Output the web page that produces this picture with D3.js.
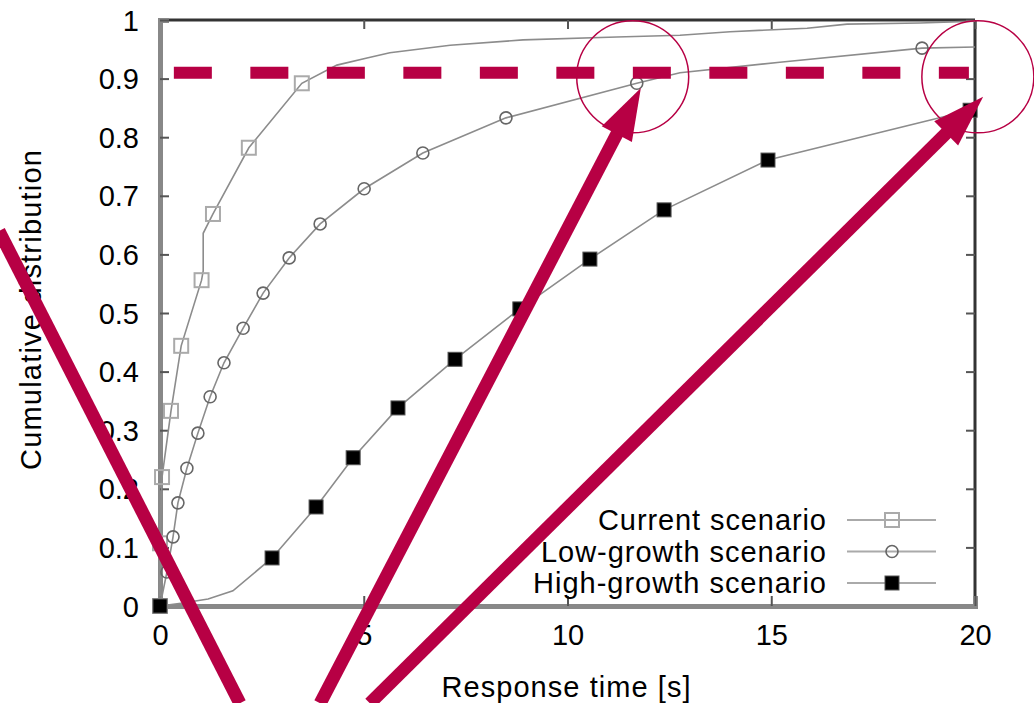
<!DOCTYPE html>
<html>
<head>
<meta charset="utf-8">
<script src="https://d3js.org/d3.v7.min.js"></script>
<style>
  body { margin: 0; background: #fff; }
  text { font-family: "Liberation Sans", Arial, sans-serif; fill: #000; }
</style>
</head>
<body>
<div id="chart"></div>
<script>
// tick values
var xTicks = [0, 5, 10, 15, 20];
var yTicks = [0, 0.1, 0.2, 0.3, 0.4, 0.5, 0.6, 0.7, 0.8, 0.9, 1];

// series: [response time, cumulative share]
var currentLine = [[0,0],[0,0.107],[0.05,0.22],[0.27,0.333],[0.52,0.444],[1.02,0.556],[1.06,0.572],[1.06,0.636],[1.3,0.669],[2.18,0.782],[3.48,0.892],[4.34,0.923],[5.08,0.935],[5.64,0.944],[7.12,0.957],[8.91,0.966],[11.21,0.971],[12.76,0.974],[13.99,0.98],[15.88,0.986],[16.86,0.993],[18.65,0.995],[20,0.998]];
var currentPts = [[0,0],[0,0.107],[0.05,0.22],[0.27,0.333],[0.52,0.444],[1.02,0.556],[1.3,0.669],[2.18,0.782],[3.48,0.892]];

var lowLine = [[0,0],[0.17,0.058],[0.32,0.118],[0.44,0.176],[0.66,0.235],[0.93,0.295],[1.23,0.357],[1.57,0.415],[2.04,0.474],[2.53,0.534],[3.17,0.594],[3.93,0.652],[5.01,0.712],[6.45,0.773],[8.49,0.833],[11.7,0.892],[12.76,0.91],[15.21,0.928],[18.7,0.952],[20,0.954]];
var lowPts = [[0,0],[0.17,0.058],[0.32,0.118],[0.44,0.176],[0.66,0.235],[0.93,0.295],[1.23,0.357],[1.57,0.415],[2.04,0.474],[2.53,0.534],[3.17,0.594],[3.93,0.652],[5.01,0.712],[6.45,0.773],[8.49,0.833],[11.7,0.892],[18.7,0.952]];

var highLine = [[0,0],[0.56,0.005],[1.18,0.012],[1.79,0.026],[2.75,0.082],[3.83,0.169],[4.74,0.253],[5.84,0.338],[7.24,0.421],[8.83,0.507],[10.55,0.592],[12.37,0.676],[14.92,0.761],[19.88,0.846]];
var highPts = [[0,0],[2.75,0.082],[3.83,0.169],[4.74,0.253],[5.84,0.338],[7.24,0.421],[8.83,0.507],[10.55,0.592],[12.37,0.676],[14.92,0.761],[19.88,0.846]];

var legendNames = ["Current scenario", "Low-growth scenario", "High-growth scenario"];
var legendWidths = [228, 285, 293];

// red annotations, in data units
var threshold = 0.91, thresholdFrom = 0.34, thresholdTo = 19.85;
var rings = [[11.6, 0.903], [20.07, 0.903]];
var arrows = [
  {from: [3.93, -0.166], to: [11.8, 0.884], head: true},
  {from: [5.15, -0.166], to: [20.2, 0.869], head: true},
  {from: [1.96, -0.166], to: [-3.93, 0.637], head: false}
];

var W = 1034, H = 703;
var x = d3.scaleLinear().domain([0, 20]).range([160, 975]);
var y = d3.scaleLinear().domain([0, 1]).range([606, 20]);

var svg = d3.select("#chart").append("svg")
  .attr("width", W).attr("height", H);

// frame: top + right dark, left + bottom grey
svg.append("line").attr("x1", x(0)).attr("x2", x(20)).attr("y1", y(1)).attr("y2", y(1))
  .attr("stroke", "#333").attr("stroke-width", 3);
svg.append("line").attr("x1", x(20)).attr("x2", x(20)).attr("y1", y(1)).attr("y2", y(0))
  .attr("stroke", "#333").attr("stroke-width", 3);

// ticks on mirrored sides
var topAxis = svg.append("g").attr("transform", "translate(0," + y(1) + ")")
  .call(d3.axisTop(x).tickValues(xTicks).tickSize(-9).tickFormat(""));
var rightAxis = svg.append("g").attr("transform", "translate(" + x(20) + ",0)")
  .call(d3.axisRight(y).tickValues(yTicks).tickSize(-9).tickFormat(""));
[topAxis, rightAxis].forEach(function(g) {
  g.select(".domain").remove();
  g.selectAll(".tick line").attr("stroke", "#555").attr("stroke-width", 2);
});

var leftAxis = svg.append("g").attr("transform", "translate(" + x(0) + ",0)")
  .call(d3.axisLeft(y).tickValues(yTicks).tickSize(-9).tickPadding(21)
    .tickFormat(function(d) { return d3.format("~g")(d); }));
var bottomAxis = svg.append("g").attr("transform", "translate(0," + y(0) + ")")
  .call(d3.axisBottom(x).tickValues(xTicks).tickSize(-10).tickPadding(18));
[leftAxis, bottomAxis].forEach(function(g) {
  g.select(".domain").attr("stroke", "#888").attr("stroke-width", 5);
  g.selectAll(".tick line").attr("stroke", "#555").attr("stroke-width", 2);
  g.selectAll(".tick text").style("font-size", "29px")
    .style("font-family", "'Liberation Sans', Arial, sans-serif").attr("fill", "#000");
});
leftAxis.selectAll(".tick text").attr("dy", "0.35em");
bottomAxis.selectAll(".tick text").attr("dy", "0.71em");

// axis titles
svg.append("text").attr("x", 566).attr("y", 697).attr("text-anchor", "middle")
  .attr("textLength", 249).attr("lengthAdjust", "spacing")
  .style("font-size", "29px").text("Response time [s]");
svg.append("text").attr("transform", "translate(41,310) rotate(-90)")
  .attr("text-anchor", "middle").attr("textLength", 320).attr("lengthAdjust", "spacing")
  .style("font-size", "29px").text("Cumulative distribution");

// curves
var line = d3.line().x(function(d) { return x(d[0]); }).y(function(d) { return y(d[1]); });
var series = [
  {line: currentLine, pts: currentPts, type: "open"},
  {line: lowLine, pts: lowPts, type: "circle"},
  {line: highLine, pts: highPts, type: "filled"}
];
series.forEach(function(s) {
  svg.append("path").datum(s.line).attr("d", line)
    .attr("fill", "none").attr("stroke", "#8c8c8c").attr("stroke-width", 1.6);
});

function marker(g, type, cx, cy) {
  if (type === "open") {
    g.append("rect").attr("x", cx - 7).attr("y", cy - 7).attr("width", 14).attr("height", 14)
      .attr("fill", "none").attr("stroke", "#aaa").attr("stroke-width", 2);
  } else if (type === "circle") {
    g.append("circle").attr("cx", cx).attr("cy", cy).attr("r", 6)
      .attr("fill", "none").attr("stroke", "#666").attr("stroke-width", 1.6);
  } else {
    g.append("rect").attr("x", cx - 7).attr("y", cy - 7).attr("width", 14).attr("height", 14)
      .attr("fill", "#000").attr("stroke", "#555").attr("stroke-width", 1);
  }
}
series.forEach(function(s) {
  var g = svg.append("g");
  s.pts.forEach(function(p) { marker(g, s.type, x(p[0]), y(p[1])); });
});

// legend
var legend = svg.append("g");
legendNames.forEach(function(name, i) {
  var cy = 520 + i * 31.5;
  legend.append("text").attr("x", 826).attr("y", cy).attr("dy", "0.35em")
    .attr("text-anchor", "end").attr("textLength", legendWidths[i]).attr("lengthAdjust", "spacing")
    .style("font-size", "29px").text(name);
  legend.append("line").attr("x1", 847).attr("x2", 936).attr("y1", cy).attr("y2", cy)
    .attr("stroke", "#aaa").attr("stroke-width", 2);
  marker(legend, series[i].type, 892, cy);
});

// red annotations
var red = "#b70044";
svg.append("line")
  .attr("x1", x(thresholdFrom)).attr("x2", x(thresholdTo))
  .attr("y1", y(threshold)).attr("y2", y(threshold))
  .attr("stroke", red).attr("stroke-width", 12).attr("stroke-dasharray", "38,38.5");

rings.forEach(function(r) {
  svg.append("circle").attr("cx", x(r[0])).attr("cy", y(r[1])).attr("r", 56)
    .attr("fill", "none").attr("stroke", red).attr("stroke-width", 1.5);
});

arrows.forEach(function(a) {
  var x1 = x(a.from[0]), y1 = y(a.from[1]), x2 = x(a.to[0]), y2 = y(a.to[1]);
  var dx = x2 - x1, dy = y2 - y1, len = Math.sqrt(dx * dx + dy * dy);
  var ux = dx / len, uy = dy / len;
  var headLen = a.head ? 52 : 0, half = 17;
  var bx = x2 - ux * headLen, by = y2 - uy * headLen;
  svg.append("line").attr("x1", x1).attr("y1", y1)
    .attr("x2", bx + ux * 2).attr("y2", by + uy * 2)
    .attr("stroke", red).attr("stroke-width", 13);
  if (a.head) {
    svg.append("path")
      .attr("d", "M" + x2 + "," + y2 +
        "L" + (bx - uy * half) + "," + (by + ux * half) +
        "L" + (bx + uy * half) + "," + (by - ux * half) + "Z")
      .attr("fill", red);
  }
});
</script>
</body>
</html>
